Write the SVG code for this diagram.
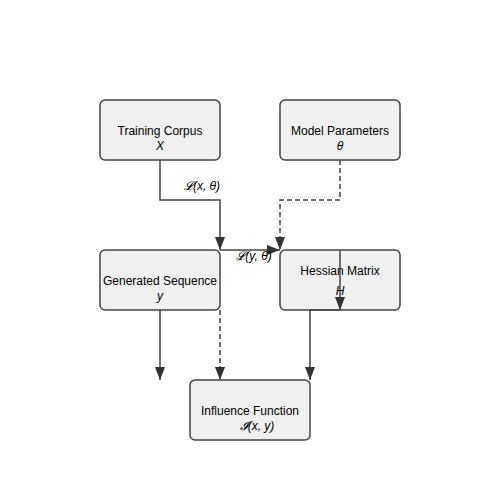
<svg xmlns="http://www.w3.org/2000/svg" width="500" height="500" viewBox="0 0 500 500">
<style>
.box{fill:#f0f0f0;stroke:#444;stroke-width:1.5}
.t{font-family:"Liberation Sans",Arial,sans-serif;font-size:12px;fill:#000;text-anchor:middle}
.i{font-style:italic}
.e{fill:none;stroke:#444;stroke-width:1.5}
.d{stroke-dasharray:5,3}
</style>
<defs>
<marker id="ah" markerWidth="13" markerHeight="10" refX="13" refY="5" viewBox="0 0 13 10" orient="auto" markerUnits="userSpaceOnUse">
<path d="M0,0 L13,5 L0,10 Z" fill="#333"/>
</marker>
</defs>
<rect width="500" height="500" fill="#fff"/>
<g id="training">
<rect class="box" x="100" y="100" width="120" height="60" rx="5"/>
<text class="t" x="160" y="135">Training Corpus</text>
<text class="t i" x="160" y="150">X</text>
</g>
<g id="model">
<rect class="box" x="280" y="100" width="120" height="60" rx="5"/>
<text class="t" x="340" y="135">Model Parameters</text>
<text class="t i" x="340" y="150">θ</text>
</g>
<g id="generated">
<rect class="box" x="100" y="250" width="120" height="60" rx="5"/>
<text class="t" x="160" y="285">Generated Sequence</text>
<text class="t i" x="160" y="300">y</text>
</g>
<g id="hessian">
<rect class="box" x="280" y="250" width="120" height="60" rx="5"/>
<text class="t" x="340" y="275">Hessian Matrix</text>
<text class="t i" x="340" y="295">H</text>
</g>
<g id="influence">
<rect class="box" x="190" y="380" width="120" height="60" rx="5"/>
<text class="t" x="250" y="415">Influence Function</text>
<text class="t i" x="257" y="430">𝓘(x, y)</text>
</g>
<g id="connectors">
<path class="e" d="M160,160 V200 H220 V250" marker-end="url(#ah)"/>
<path class="e d" d="M340,160 V200 H280 V250" marker-end="url(#ah)"/>
<path class="e" d="M220,250 H280" marker-end="url(#ah)"/>
<path class="e" d="M340,250 V310" marker-end="url(#ah)"/>
<path class="e" d="M160,310 V380" marker-end="url(#ah)"/>
<path class="e d" d="M220,310 V380" marker-end="url(#ah)"/>
<path class="e" d="M340,310 H310 V380" marker-end="url(#ah)"/>
<text class="t i" x="202" y="190">𝓛(x, θ)</text>
<text class="t i" x="254" y="260">𝓛(y, θ)</text>
</g>
</svg>
